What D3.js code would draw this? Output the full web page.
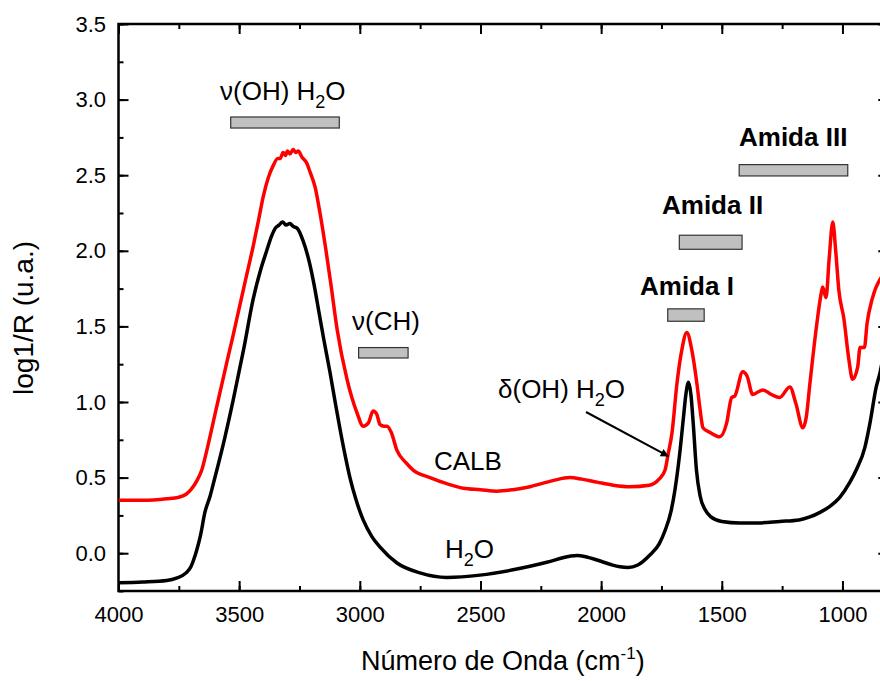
<!DOCTYPE html>
<html><head><meta charset="utf-8">
<script src="https://cdn.jsdelivr.net/npm/d3@7"></script>
<style>
html,body{margin:0;padding:0;background:#fff;}
svg{display:block;font-family:"Liberation Sans",Arial,Helvetica,sans-serif;}
</style></head>
<body><svg id="chart" width="880" height="681"></svg>
<script>
// ---- data ----
const h2oWavenumber = [4000,3900,3800,3760,3720,3700,3690,3676,3660,3642,3620,3607,3560,3525,3480,3442,3410,3386,3365,3350,3335,3320,3305,3290,3275,3260,3236,3210,3190,3170,3150,3124,3100,3083,3060,3041,3015,2986,2950,2916,2846,2751,2640,2502,2365,2225,2130,2100,2060,2017,1960,1922,1888,1850,1797,1760,1735,1710,1694,1675,1660,1648,1638,1628,1618,1605,1590,1570,1545,1500,1425,1350,1260,1180,1135,1093,1052,1011,969,940,907,886,860,845,820];
const h2oValues = [-0.195,-0.19,-0.18,-0.165,-0.13,-0.09,-0.05,0.02,0.12,0.27,0.38,0.46,0.76,1.01,1.36,1.68,1.88,2.0,2.1,2.15,2.17,2.19,2.17,2.18,2.16,2.15,2.07,1.93,1.78,1.60,1.42,1.20,0.98,0.83,0.64,0.50,0.35,0.22,0.11,0.04,-0.065,-0.13,-0.16,-0.145,-0.11,-0.06,-0.02,-0.015,-0.025,-0.045,-0.075,-0.09,-0.095,-0.08,-0.01,0.06,0.15,0.28,0.42,0.65,0.88,1.06,1.13,1.05,0.85,0.55,0.38,0.29,0.24,0.21,0.2,0.2,0.21,0.22,0.24,0.27,0.31,0.37,0.47,0.56,0.70,0.86,1.1,1.19,1.4];

const calbWavenumber = [4000,3900,3800,3750,3720,3700,3675,3655,3634,3600,3580,3550,3525,3500,3476,3442,3420,3400,3380,3360,3340,3330,3318,3308,3300,3290,3276,3266,3255,3240,3220,3206,3185,3165,3140,3120,3094,3053,3012,2986,2965,2945,2930,2916,2900,2887,2870,2846,2810,2779,2709,2640,2571,2500,2432,2365,2295,2200,2130,2080,2017,1950,1880,1800,1760,1735,1723,1706,1686,1665,1645,1625,1603,1590,1578,1550,1508,1480,1459,1446,1413,1395,1372,1330,1295,1260,1218,1193,1164,1150,1135,1106,1090,1082,1068,1055,1040,1028,1015,994,975,958,937,927,909,898,877,845,820];
const calbValues = [0.35,0.35,0.36,0.37,0.39,0.42,0.48,0.55,0.68,0.92,1.06,1.27,1.44,1.62,1.79,2.03,2.2,2.36,2.48,2.56,2.61,2.61,2.65,2.63,2.66,2.64,2.67,2.65,2.66,2.62,2.58,2.52,2.42,2.25,2.0,1.78,1.48,1.15,0.93,0.84,0.86,0.94,0.92,0.85,0.84,0.84,0.80,0.68,0.6,0.55,0.5,0.46,0.43,0.42,0.41,0.42,0.44,0.48,0.5,0.49,0.47,0.45,0.44,0.45,0.49,0.55,0.65,0.8,1.12,1.35,1.46,1.35,1.12,0.95,0.83,0.8,0.77,0.86,1.03,1.04,1.2,1.17,1.05,1.08,1.05,1.03,1.1,0.99,0.83,0.9,1.12,1.52,1.7,1.76,1.69,1.95,2.19,2.0,1.74,1.55,1.3,1.15,1.23,1.36,1.36,1.52,1.68,1.81,1.85];

const xTicks = [4000,3500,3000,2500,2000,1500,1000];
const yTicks = [0.0,0.5,1.0,1.5,2.0,2.5,3.0,3.5];

// band annotations (wavenumber ranges, log1/R level)
const bandLabels = ["ν(OH) H₂O","ν(CH)","Amida I","Amida II","Amida III"];
const bandFrom   = [3535,3005,1724,1676,1428];
const bandTo     = [3085,2800,1573,1416,978];
const bandTop    = [2.885,1.36,1.616,2.103,2.57];
const bandBottom = [2.812,1.291,1.534,2.01,2.495];

// ---- layout ----
const svg = d3.select("#chart");
const L = 118.5, T = 24, B = 591;
const x = d3.scaleLinear().domain([4000, 810]).range([L, 888.3]);
const y = d3.scaleLinear().domain([-0.25, 3.5]).range([B, T]);
const R = x(810);

const defs = svg.append("defs");
defs.append("clipPath").attr("id","plotclip").append("rect")
  .attr("x",L).attr("y",T).attr("width",R-L).attr("height",B-T);
defs.append("marker").attr("id","arrow").attr("viewBox","0 0 10 10")
  .attr("refX",10).attr("refY",5).attr("markerWidth",10).attr("markerHeight",8)
  .attr("markerUnits","userSpaceOnUse").attr("orient","auto")
  .append("path").attr("d","M0,0 L10,5 L0,10 Z").attr("fill","#000");

// minor ticks
const xMinor = d3.range(4000, 800, -250);
const yMinor = d3.range(-0.25, 3.5001, 0.25);
function axisStyle(g){ g.select(".domain").remove(); g.selectAll("line").attr("stroke","#000").attr("stroke-width",2); }

svg.append("g").attr("transform",`translate(0,${B})`)
  .call(d3.axisBottom(x).tickValues(xMinor).tickSize(-5).tickFormat("")).call(axisStyle);
svg.append("g").attr("transform",`translate(0,${T})`)
  .call(d3.axisTop(x).tickValues(xMinor).tickSize(-5).tickFormat("")).call(axisStyle);
svg.append("g").attr("transform",`translate(${L},0)`)
  .call(d3.axisLeft(y).tickValues(yMinor).tickSize(-5).tickFormat("")).call(axisStyle);
svg.append("g").attr("transform",`translate(${R},0)`)
  .call(d3.axisRight(y).tickValues(yMinor).tickSize(-5).tickFormat("")).call(axisStyle);

// major ticks
const gx = svg.append("g").attr("transform",`translate(0,${B})`)
  .call(d3.axisBottom(x).tickValues(xTicks).tickSize(-10).tickPadding(15).tickFormat(d3.format("d")));
axisStyle(gx);
gx.selectAll("text").attr("font-size",22).attr("fill","#000").attr("font-family","Liberation Sans, Arial, sans-serif");
svg.append("g").attr("transform",`translate(0,${T})`)
  .call(d3.axisTop(x).tickValues(xTicks).tickSize(-10).tickFormat("")).call(axisStyle);
const gy = svg.append("g").attr("transform",`translate(${L},0)`)
  .call(d3.axisLeft(y).tickValues(yTicks).tickSize(-10).tickPadding(12.5).tickFormat(d3.format(".1f")));
axisStyle(gy);
gy.selectAll("text").attr("font-size",22).attr("fill","#000").attr("font-family","Liberation Sans, Arial, sans-serif");
svg.append("g").attr("transform",`translate(${R},0)`)
  .call(d3.axisRight(y).tickValues(yTicks).tickSize(-10).tickFormat("")).call(axisStyle);

// frame
svg.append("rect").attr("x",L).attr("y",T).attr("width",R-L).attr("height",B-T)
  .attr("fill","none").attr("stroke","#000").attr("stroke-width",2.5);

// curves
const line = d3.line().curve(d3.curveMonotoneX);
const plot = svg.append("g").attr("clip-path","url(#plotclip)");
plot.append("path")
  .attr("d", line(h2oWavenumber.map((w,i)=>[x(w), y(h2oValues[i])])))
  .attr("fill","none").attr("stroke","#000").attr("stroke-width",3.5).attr("stroke-linejoin","round");
plot.append("path")
  .attr("d", line(calbWavenumber.map((w,i)=>[x(w), y(calbValues[i])])))
  .attr("fill","none").attr("stroke","#ff0000").attr("stroke-width",3.5).attr("stroke-linejoin","round");

// band bars
bandLabels.forEach((lab,i)=>{
  svg.append("rect").attr("x",x(bandFrom[i])).attr("y",y(bandTop[i]))
    .attr("width",x(bandTo[i])-x(bandFrom[i])).attr("height",y(bandBottom[i])-y(bandTop[i]))
    .attr("fill","#c0c0c0").attr("stroke","#333").attr("stroke-width",1.2);
});

// annotation texts
function sub2(t, xx, yy, parts, bold){
  const tx = svg.append("text").attr("x",xx).attr("y",yy).attr("font-size",26).attr("fill","#000");
  if(bold) tx.attr("font-weight","bold");
  parts.forEach(p=>{
    const s = tx.append("tspan").text(p.t);
    if(p.sub){ s.attr("font-size",18).attr("dy",8); }
    if(p.back){ s.attr("dy",-8); }
  });
  return tx;
}
sub2(svg, 220, 100, [{t:"ν(OH) H"},{t:"2",sub:true},{t:"O",back:true}]);
sub2(svg, 352, 330, [{t:"ν(CH)"}]);
sub2(svg, 434, 470, [{t:"CALB"}]);
sub2(svg, 445, 558, [{t:"H"},{t:"2",sub:true},{t:"O",back:true}]);
sub2(svg, 498, 398, [{t:"δ(OH) H"},{t:"2",sub:true},{t:"O",back:true}]);
sub2(svg, 640, 295, [{t:"Amida I"}], true);
sub2(svg, 662, 214, [{t:"Amida II"}], true);
sub2(svg, 739, 146, [{t:"Amida III"}], true);

// arrow to delta(OH) band
svg.append("line").attr("x1",586).attr("y1",412).attr("x2",x(1720)).attr("y2",y(0.64))
  .attr("stroke","#000").attr("stroke-width",2).attr("marker-end","url(#arrow)");

// axis titles
svg.append("text").attr("transform","translate(33,318) rotate(-90)").attr("text-anchor","middle")
  .attr("font-size",28).attr("fill","#000").text("log1/R (u.a.)");
const xt = svg.append("text").attr("x",361).attr("y",670).attr("text-anchor","start")
  .attr("font-size",27).attr("fill","#000");
xt.append("tspan").text("Número de Onda (cm");
xt.append("tspan").attr("font-size",17).attr("dy",-11).text("-1");
xt.append("tspan").attr("dy",11).text(")");
</script></body></html>
